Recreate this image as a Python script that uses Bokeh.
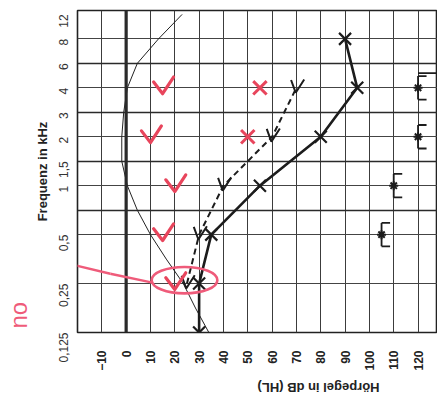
import math
from bokeh.plotting import figure
from bokeh.models import FixedTicker, Grid, Span, Arrow, Title
from bokeh.embed import file_html
from bokeh.resources import INLINE

# ---------------- data ----------------
freqs = [0.125, 0.25, 0.5, 1, 1.5, 2, 3, 4, 6, 8, 12]
freq_labels = ["0,125", "0,25", "0,5", "1", "1,5", "2", "3", "4", "6", "8", "12"]
db_ticks = [-10, 0, 10, 20, 30, 40, 50, 60, 70, 80, 90, 100, 110, 120]

# black X, solid line
ac_freq = [0.125, 0.25, 0.5, 1, 2, 4, 8]
ac_db = [30, 30, 35, 55, 80, 95, 90]

# black check marks, dashed line
bc_freq = [0.25, 0.5, 1, 2, 4]
bc_db = [25, 30, 40, 60, 70]

# red check marks
rc_freq = [0.25, 0.5, 1, 2, 4]
rc_db = [20, 15, 20, 10, 15]

# red X
rx_freq = [2, 4]
rx_db = [50, 55]

# bracket + asterisk marks
mk_freq = [0.5, 1, 2, 4]
mk_db = [105, 110, 120, 120]
nr_freq = [4]
nr_db = [120]

# thin reference curve
curve_freq = [0.125, 0.1875, 0.25, 0.375, 0.5, 0.75, 1, 1.5, 2, 3, 4, 6, 8, 12]
curve_db = [34, 28.5, 23.5, 16.5, 10, 4.6, 0.5, -1.8, -1.8, -1, 0.5, 4.6, 13.3, 23]

# red handwritten annotations
circle_freq, circle_db = 0.25, 24
circle_w, circle_h = 27, 0.54
stroke_db = [-51.5, -35.3, -20, -6.5, 10.8]
stroke_pos = [1.76, 1.56, 1.36, 1.2, 1.02]
note_text = "no"


def fpos(f):
    r = math.log2(f / 0.125)
    if abs(r - round(r)) < 1e-9:
        return r
    return math.log2(f / 0.1875) + 0.5


def P(lst):
    return [fpos(f) for f in lst]


RED = "#e8455c"
PINK = "#ef5b7a"
INK = "#1c1c1c"

p = figure(width=437, height=405, x_range=(-20, 128), y_range=(0, 6.58),
           output_backend="svg", toolbar_location=None,
           min_border_left=77, min_border_right=0, min_border_top=10,
           min_border_bottom=65)
p.background_fill_color = "white"
p.border_fill_color = "white"
p.outline_line_color = "#222222"
p.outline_line_width = 1.6

# grids
p.xgrid.ticker = FixedTicker(ticks=[t for t in db_ticks if t != 0])
p.xgrid.grid_line_color = "#3c3c3c"
p.xgrid.grid_line_width = 1
p.ygrid.ticker = FixedTicker(ticks=[0, 1, 2, 3, 4, 5, 6])
p.ygrid.grid_line_color = "#444444"
p.ygrid.grid_line_width = 1
p.add_layout(Grid(dimension=1, ticker=FixedTicker(ticks=[2.5, 3.5, 4.5, 5.5]),
                  grid_line_color="#2a2a2a", grid_line_width=1.4))
p.add_layout(Span(location=0, dimension="height", line_color="#2a2a2a", line_width=3.2))

# axes
xa = p.xaxis[0]
xa.ticker = FixedTicker(ticks=db_ticks)
xa.major_label_orientation = math.pi / 2
xa.major_label_text_font = "Liberation Sans"
xa.major_label_text_font_style = "bold"
xa.major_label_text_font_size = "12px"
xa.major_label_text_color = "#222222"
xa.major_label_standoff = 12
xa.major_tick_line_color = None
xa.minor_tick_line_color = None
xa.axis_line_color = None
xa.axis_label = "Hörpegel in dB (HL)"
xa.axis_label_text_font = "Liberation Sans"
xa.axis_label_text_font_style = "bold"
xa.axis_label_text_font_size = "13px"
xa.axis_label_text_color = "#222222"
xa.axis_label_standoff = 14
try:
    xa.axis_label_orientation = math.pi
except Exception:
    pass

ya = p.yaxis[0]
ya.ticker = FixedTicker(ticks=P(freqs))
ya.major_label_overrides = {fpos(f): l for f, l in zip(freqs, freq_labels)}
ya.major_label_orientation = math.pi / 2
ya.major_label_text_font = "Liberation Sans"
ya.major_label_text_font_size = "12px"
ya.major_label_text_color = "#333333"
ya.major_label_standoff = 8
ya.major_tick_line_color = None
ya.minor_tick_line_color = None
ya.axis_line_color = None
ya.axis_label = "Frequenz in kHz"
ya.axis_label_text_font = "Liberation Sans"
ya.axis_label_text_font_style = "bold"
ya.axis_label_text_font_size = "13px"
ya.axis_label_text_color = "#222222"
ya.axis_label_standoff = 2

# handwritten note as an outer left title
p.add_layout(Title(text=note_text, align="left", offset=4, standoff=0,
                   text_color=PINK, text_font="Liberation Sans",
                   text_font_size="24px", text_font_style="normal"), "left")

# thin curve
p.line(curve_db, P(curve_freq), line_color="#222222", line_width=1)

# solid X line
p.line(ac_db, P(ac_freq), line_color=INK, line_width=2.6)
p.scatter(ac_db, P(ac_freq), marker="x", size=17, line_color=INK, line_width=2.2)

# dashed check line with check marks drawn as strokes
bp = P(bc_freq)
p.line(bc_db, bp, line_color=INK, line_width=2, line_dash="6 4")
p.multi_line([[d - 2.2, d - 0.3, d + 3.2] for d in bc_db],
             [[y + 0.16, y - 0.1, y + 0.17] for y in bp],
             line_color=INK, line_width=2)

# red checks and X
rp = P(rc_freq)
p.multi_line([[d - 3.7, d, d + 4.5] for d in rc_db],
             [[y + 0.12, y - 0.12, y + 0.22] for y in rp],
             line_color=RED, line_width=3.2, line_join="round", line_cap="round")
p.scatter(rx_db, P(rx_freq), marker="x", size=19, line_color=RED, line_width=3)

# bracket marks
mp = P(mk_freq)
hb = 0.24
arm = 3.5
p.segment(mk_db, [y - hb for y in mp], mk_db, [y + hb for y in mp],
          line_color=INK, line_width=1.8)
p.segment(mk_db, [y - hb for y in mp], [d + arm for d in mk_db], [y - hb for y in mp],
          line_color=INK, line_width=1.8)
p.segment(mk_db, [y + hb for y in mp], [d + arm for d in mk_db], [y + hb for y in mp],
          line_color=INK, line_width=1.8)
p.scatter(mk_db, mp, marker="asterisk", size=9, line_color=INK, line_width=2)
npp = P(nr_freq)
p.segment(nr_db, [y + hb + 0.06 for y in npp], [128] * len(nr_db), [y + hb + 0.06 for y in npp],
          line_color=INK, line_width=1.6)

# red annotations
p.ellipse(x=[circle_db], y=[fpos(circle_freq) + 0.07], width=circle_w, height=circle_h,
          fill_color=None, line_color=PINK, line_width=2.6)
for i in range(len(stroke_db) - 1):
    p.add_layout(Arrow(x_start=stroke_db[i], y_start=stroke_pos[i],
                       x_end=stroke_db[i + 1], y_end=stroke_pos[i + 1],
                       end=None, line_color=PINK, line_width=2.4))

open("out.html", "w").write(file_html(p, INLINE))
